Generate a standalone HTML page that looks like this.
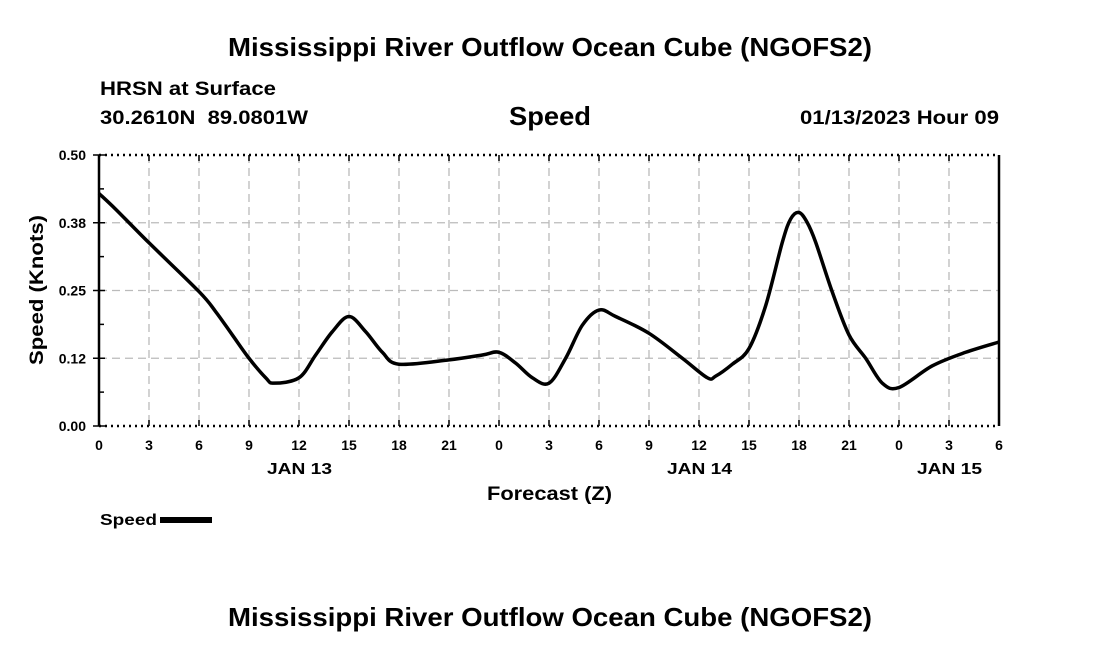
<!DOCTYPE html>
<html><head><meta charset="utf-8"><style>
body{margin:0;background:#fff;}
svg text{font-family:"Liberation Sans",Arial,sans-serif;font-weight:bold;fill:#000;}
</style></head><body>
<svg id="chart" width="1100" height="650" viewBox="0 0 1100 650">
<text x="228" y="56" font-size="26" textLength="644" lengthAdjust="spacingAndGlyphs">Mississippi River Outflow Ocean Cube (NGOFS2)</text>
<text x="100" y="95" font-size="19" textLength="176" lengthAdjust="spacingAndGlyphs">HRSN at Surface</text>
<text x="100" y="124" font-size="19" textLength="208" lengthAdjust="spacingAndGlyphs">30.2610N&#160;&#160;89.0801W</text>
<text x="509" y="125" font-size="26" textLength="82" lengthAdjust="spacingAndGlyphs">Speed</text>
<text x="800" y="124" font-size="19" textLength="199" lengthAdjust="spacingAndGlyphs">01/13/2023 Hour 09</text>
<g id="grid"></g>
<g id="axes"></g>
<path id="line" fill="none" stroke="#000" stroke-width="3.5" stroke-linejoin="round"/>
<text x="487" y="500" font-size="19" textLength="125" lengthAdjust="spacingAndGlyphs">Forecast (Z)</text>
<text transform="translate(43,365) rotate(-90)" font-size="19" textLength="150" lengthAdjust="spacingAndGlyphs">Speed (Knots)</text>
<text x="100" y="525" font-size="16" textLength="57" lengthAdjust="spacingAndGlyphs">Speed</text>
<rect x="160" y="517" width="52" height="6" fill="#000"/>
<text x="228" y="626" font-size="26" textLength="644" lengthAdjust="spacingAndGlyphs">Mississippi River Outflow Ocean Cube (NGOFS2)</text>
</svg>
<script>
const hours=[0,1,3,6,7,8,9,10,10.5,12,13,14,15,16,17,18,21,23,24,25,26,27,28,29,30,31,33,35,36.5,37,38,39,40,41,41.5,42,42.5,43,44,45,46,47,48,50,52,54];
const speeds=[0.429,0.40,0.338,0.248,0.211,0.168,0.125,0.089,0.079,0.089,0.131,0.174,0.202,0.174,0.136,0.114,0.122,0.131,0.136,0.116,0.089,0.079,0.125,0.186,0.214,0.202,0.171,0.125,0.089,0.092,0.114,0.143,0.222,0.339,0.382,0.394,0.375,0.339,0.247,0.168,0.125,0.079,0.071,0.111,0.136,0.155];
const yTicks=[0,0.125,0.25,0.375,0.5];
const yTickLabels=["0.00","0.12","0.25","0.38","0.50"];
const xTickLabels=["0","3","6","9","12","15","18","21","0","3","6","9","12","15","18","21","0","3","6"];
const dayLabels=[{h:12,t:"JAN 13"},{h:36,t:"JAN 14"},{h:51,t:"JAN 15"}];
const L=99,R=999,T=155,B=426,XMAX=54,YMAX=0.5;
const xs=h=>L+(R-L)*h/XMAX, ys=v=>B-(B-T)*v/YMAX;
const NS="http://www.w3.org/2000/svg";
const grid=document.getElementById('grid'),axes=document.getElementById('axes');
function mk(tag,attrs,parent){const e=document.createElementNS(NS,tag);for(const k in attrs)e.setAttribute(k,attrs[k]);parent.appendChild(e);return e;}
xTickLabels.forEach((lab,i)=>{const h=i*3,x=xs(h);
 if(i>0&&i<xTickLabels.length-1){const g=mk('line',{x1:x,x2:x,y1:T,y2:B,stroke:'#bbb','stroke-width':1.3,'stroke-dasharray':'8,5'},grid);
 
 }
 const tk=mk('line',{x1:x,x2:x,y1:B,y2:B-6,stroke:'#000','stroke-width':1.5},axes);
 
 
 const tk2=mk('line',{x1:x,x2:x,y1:T,y2:T+6,stroke:'#000','stroke-width':1.5},axes);
 
 
 const t=mk('text',{x:x,y:B+24,'font-size':14,'text-anchor':'middle'},axes);t.textContent=lab;
 
 });
dayLabels.forEach(d=>{const t=mk('text',{x:xs(d.h)-32,y:B+48,'font-size':16,textLength:65,lengthAdjust:'spacingAndGlyphs'},axes);t.textContent=d.t;
 
 });
yTicks.forEach((v,i)=>{const y=ys(v);
 if(i>0&&i<yTicks.length-1){const g=mk('line',{x1:L,x2:R,y1:y,y2:y,stroke:'#bbb','stroke-width':1.3,'stroke-dasharray':'8,5'},grid);
 
 }
 const t=mk('text',{x:L-13,y:y+5,'font-size':14,'text-anchor':'end'},axes);t.textContent=yTickLabels[i];
 
 
 const tk=mk('line',{x1:L-6,x2:L+6,y1:y,y2:y,stroke:'#000','stroke-width':1.5},axes);
 
 
 if(i<yTicks.length-1){const ym=ys(v+0.0625);const m=mk('line',{x1:L,x2:L+5,y1:ym,y2:ym,stroke:'#000','stroke-width':1.5},axes);
 
 }});
[[L,T,L,B,''],[R,T,R,B,''],[L,T,R,T,'2,4'],[L,B,R,B,'2,4']].forEach(a=>{const l=mk('line',{x1:a[0],y1:a[1],x2:a[2],y2:a[3],stroke:'#000','stroke-width':2.5,'stroke-dasharray':a[4]},axes);
 
 });
const P=hours.map((h,i)=>[xs(h),ys(speeds[i])]);
let d='M'+P[0][0]+','+P[0][1];
for(let i=0;i<P.length-1;i++){const p0=P[Math.max(0,i-1)],p1=P[i],p2=P[i+1],p3=P[Math.min(P.length-1,i+2)];
 const k=1/6;
 d+=' C'+(p1[0]+(p2[0]-p0[0])*k)+','+(p1[1]+(p2[1]-p0[1])*k)+' '+(p2[0]-(p3[0]-p1[0])*k)+','+(p2[1]-(p3[1]-p1[1])*k)+' '+p2[0]+','+p2[1];}
document.getElementById('line').setAttribute('d',d);
</script>
</body></html>
